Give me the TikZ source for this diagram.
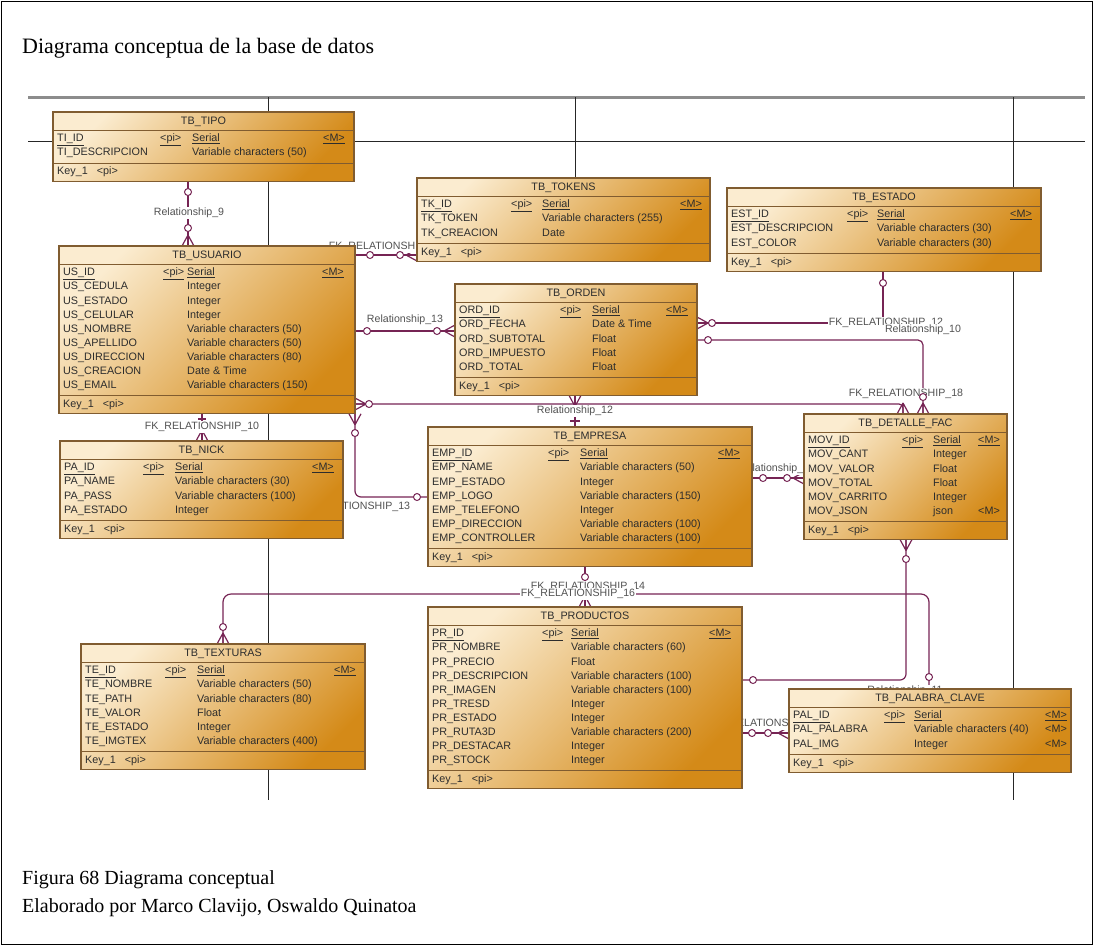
\documentclass[tikz,border=0pt]{standalone}
\usepackage{fontspec}
\setmainfont{Liberation Serif}
\newfontfamily\erfont{Liberation Sans}

\definecolor{boxlight}{RGB}{251,236,208}
\definecolor{boxdark}{RGB}{212,138,24}
\definecolor{boxedge}{RGB}{128,92,48}
\definecolor{relcol}{RGB}{118,36,84}
\definecolor{celltext}{RGB}{45,45,45}
\definecolor{lbltext}{RGB}{82,82,82}

\pgfdeclarelayer{links}
\pgfdeclarelayer{grid}
\pgfsetlayers{links,grid,main}

\tikzset{
  tblbox/.style={draw=boxedge, line width=1.1pt, top color=boxlight, bottom color=boxdark,
    shading angle=45, inner sep=0pt, outer sep=0pt},
  tblrule/.style={draw=boxedge, line width=1pt},
  tblcell/.style={font=\erfont\fontsize{10.8}{12}\selectfont, text=celltext, inner sep=0pt,
    text height=7.7pt, text depth=2pt},
  relline/.style={draw=relcol, line width=1.2pt},
  relmark/.style={circle, draw=relcol, fill=white, line width=1pt, inner sep=0pt, minimum size=7pt},
  rellabel/.style={font=\erfont\fontsize{10.6}{12}\selectfont, text=lbltext, fill=white, inner sep=1.3pt},
  gridline/.style={draw=black!85, line width=1pt},
  crowfoot/.pic={\draw[relline] (-11,0) -- (0,-6) (-11,0) -- (0,0) (-11,0) -- (0,6);}
}

% #1 name, #2 left, #3 top, #4 width, #5 title,
% #6 x of <pi>, #7 x of type, #8 right end of <M>, #9 rows name/pi/type/M
\newcommand{\ertable}[9]{%
  \foreach \rowx [count=\rowk] in {#9} {\xdef\ernrows{\rowk}}%
  \pgfmathsetmacro\ertblh{55+(\ernrows-1)*14.1}%
  \node[tblbox, minimum width=#4pt, minimum height=\ertblh pt, anchor=north west] (#1) at (#2,#3) {};%
  \draw[tblrule] ([yshift=-18pt]#1.north west) -- ([yshift=-18pt]#1.north east);%
  \draw[tblrule] ([yshift=18pt]#1.south west) -- ([yshift=18pt]#1.south east);%
  \node[tblcell] (#1-title) at ([yshift=-9.5pt]#1.north) {#5};%
  \node[tblcell, anchor=west] (#1-key) at ([xshift=4pt, yshift=9pt]#1.south west) {Key\_1\hspace{9pt}<pi>};%
  \foreach \colN/\colP/\colT/\colM [count=\rowi] in {#9} {%
    \pgfmathsetmacro\rowy{#3+27+(\rowi-1)*14.1}%
    \ifnum\rowi=1 \let\rowul\underline\else\let\rowul\relax\fi
    \node[tblcell, anchor=west] (#1-n\rowi) at (#2+4,\rowy) {\rowul{\colN}};%
    \node[tblcell, anchor=west] (#1-p\rowi) at (#6,\rowy) {\rowul{\colP}};%
    \node[tblcell, anchor=west] (#1-t\rowi) at (#7,\rowy) {\rowul{\colT}};%
    \node[tblcell, anchor=east] (#1-m\rowi) at (#8,\rowy) {\rowul{\colM}};%
  }%
}

\begin{document}
\begin{tikzpicture}[x=1pt, y=-1pt]
\useasboundingbox (0,0) rectangle (1094,946);

% page frame, heading and caption
\draw[line width=1pt] (1,1) rectangle (1092,944);
\node[anchor=base west, inner sep=0pt, font=\fontsize{22}{26}\selectfont] (title) at (22,53)
  {Diagrama conceptua de la base de datos};
\node[anchor=base west, inner sep=0pt, font=\fontsize{20}{24}\selectfont] (cap1) at (22,884)
  {Figura 68 Diagrama conceptual};
\node[anchor=base west, inner sep=0pt, font=\fontsize{20}{24}\selectfont] (cap2) at (22,912)
  {Elaborado por Marco Clavijo, Oswaldo Quinatoa};

% entity tables
\ertable{tipo}{53}{112}{301}{TB\_TIPO}{160}{192}{345}{
  TI\_ID/<pi>/Serial/<M>,
  TI\_DESCRIPCION/{}/Variable characters (50)/{}}

\ertable{usuario}{59}{246}{296}{TB\_USUARIO}{163}{187}{344}{
  US\_ID/<pi>/Serial/<M>,
  US\_CEDULA/{}/Integer/{},
  US\_ESTADO/{}/Integer/{},
  US\_CELULAR/{}/Integer/{},
  US\_NOMBRE/{}/Variable characters (50)/{},
  US\_APELLIDO/{}/Variable characters (50)/{},
  US\_DIRECCION/{}/Variable characters (80)/{},
  US\_CREACION/{}/Date \& Time/{},
  US\_EMAIL/{}/Variable characters (150)/{}}

\ertable{tokens}{417}{178}{293}{TB\_TOKENS}{511}{542}{702}{
  TK\_ID/<pi>/Serial/<M>,
  TK\_TOKEN/{}/Variable characters (255)/{},
  TK\_CREACION/{}/Date/{}}

\ertable{estado}{727}{188}{314}{TB\_ESTADO}{847}{877}{1032}{
  EST\_ID/<pi>/Serial/<M>,
  EST\_DESCRIPCION/{}/Variable characters (30)/{},
  EST\_COLOR/{}/Variable characters (30)/{}}

\ertable{orden}{455}{284}{242}{TB\_ORDEN}{560}{592}{688}{
  ORD\_ID/<pi>/Serial/<M>,
  ORD\_FECHA/{}/Date \& Time/{},
  ORD\_SUBTOTAL/{}/Float/{},
  ORD\_IMPUESTO/{}/Float/{},
  ORD\_TOTAL/{}/Float/{}}

\ertable{nick}{60}{441}{283}{TB\_NICK}{143}{175}{334}{
  PA\_ID/<pi>/Serial/<M>,
  PA\_NAME/{}/Variable characters (30)/{},
  PA\_PASS/{}/Variable characters (100)/{},
  PA\_ESTADO/{}/Integer/{}}

\ertable{empresa}{428}{427}{324}{TB\_EMPRESA}{548}{580}{740}{
  EMP\_ID/<pi>/Serial/<M>,
  EMP\_NAME/{}/Variable characters (50)/{},
  EMP\_ESTADO/{}/Integer/{},
  EMP\_LOGO/{}/Variable characters (150)/{},
  EMP\_TELEFONO/{}/Integer/{},
  EMP\_DIRECCION/{}/Variable characters (100)/{},
  EMP\_CONTROLLER/{}/Variable characters (100)/{}}

\ertable{detalle}{804}{414}{203}{TB\_DETALLE\_FAC}{902}{933}{1000}{
  MOV\_ID/<pi>/Serial/<M>,
  MOV\_CANT/{}/Integer/{},
  MOV\_VALOR/{}/Float/{},
  MOV\_TOTAL/{}/Float/{},
  MOV\_CARRITO/{}/Integer/{},
  MOV\_JSON/{}/json/<M>}

\ertable{texturas}{81}{644}{284}{TB\_TEXTURAS}{165}{197}{356}{
  TE\_ID/<pi>/Serial/<M>,
  TE\_NOMBRE/{}/Variable characters (50)/{},
  TE\_PATH/{}/Variable characters (80)/{},
  TE\_VALOR/{}/Float/{},
  TE\_ESTADO/{}/Integer/{},
  TE\_IMGTEX/{}/Variable characters (400)/{}}

\ertable{productos}{428}{607}{314}{TB\_PRODUCTOS}{542}{571}{731}{
  PR\_ID/<pi>/Serial/<M>,
  PR\_NOMBRE/{}/Variable characters (60)/{},
  PR\_PRECIO/{}/Float/{},
  PR\_DESCRIPCION/{}/Variable characters (100)/{},
  PR\_IMAGEN/{}/Variable characters (100)/{},
  PR\_TRESD/{}/Integer/{},
  PR\_ESTADO/{}/Integer/{},
  PR\_RUTA3D/{}/Variable characters (200)/{},
  PR\_DESTACAR/{}/Integer/{},
  PR\_STOCK/{}/Integer/{}}

\ertable{palabra}{789}{689}{282}{TB\_PALABRA\_CLAVE}{884}{914}{1067}{
  PAL\_ID/<pi>/Serial/<M>,
  PAL\_PALABRA/{}/Variable characters (40)/<M>,
  PAL\_IMG/{}/Integer/<M>}

% sheet grid lines behind the tables
\begin{pgfonlayer}{grid}
  \draw[draw=black!45, line width=3pt] (28,97) -- (1085,97);
  \draw[gridline] (28,141) -- (1085,141);
  \draw[gridline] (268,97) -- (268,800);
  \draw[gridline] (1013,97) -- (1013,800);
  \draw[gridline] (575,97) -- (tokens.north -| 575,0);
\end{pgfonlayer}

% relationships
\begin{pgfonlayer}{links}
  % connector lines
  \draw[relline] (tipo.south -| 188,0) -- (usuario.north -| 188,0);
  \draw[relline] (usuario.east |- 0,255) -- (tokens.west |- 0,255);
  \draw[relline] (usuario.east |- 0,331) -- (orden.west |- 0,331);
  \draw[relline, rounded corners=4pt] (usuario.east |- 0,404) -- (903,404) -- (detalle.north -| 903,0);
  \draw[relline] (orden.south -| 575,0) -- (empresa.north -| 575,0);
  \draw[relline] (570,421) -- (580,421);
  \draw[relline] (orden.east |- 0,323) -- (883,323) -- (estado.south -| 883,0);
  \draw[relline, rounded corners=5pt] (orden.east |- 0,340) -- (923,340) -- (detalle.north -| 923,0);
  \draw[relline] (usuario.south -| 202,0) -- (nick.north -| 202,0);
  \draw[relline] (198,419) -- (206,419);
  \draw[relline, rounded corners=6pt] (usuario.south -| 355,0) -- (355,497) -- (empresa.west |- 0,497);
  \draw[relline] (empresa.east |- 0,478) -- (detalle.west |- 0,478);
  \draw[relline] (empresa.south -| 585,0) -- (productos.north -| 585,0);
  \draw[relline, rounded corners=8pt] (texturas.north -| 223,0) -- (223,594) -- (929,594) -- (palabra.north -| 929,0);
  \draw[relline, rounded corners=6pt] (detalle.south -| 906,0) -- (906,680) -- (productos.east |- 0,680);
  \draw[relline] (productos.east |- 0,733) -- (palabra.west |- 0,733);

  % many-side ends
  \pic[rotate=-90] at (usuario.north -| 188,0) {crowfoot};
  \pic at (tokens.west |- 0,255) {crowfoot};
  \pic at (orden.west |- 0,331) {crowfoot};
  \pic[rotate=180] at (usuario.east |- 0,404) {crowfoot};
  \pic[rotate=-90] at (detalle.north -| 903,0) {crowfoot};
  \pic[rotate=90] at (orden.south -| 575,0) {crowfoot};
  \pic[rotate=180] at (orden.east |- 0,323) {crowfoot};
  \pic[rotate=-90] at (detalle.north -| 923,0) {crowfoot};
  \pic[rotate=-90] at (nick.north -| 202,0) {crowfoot};
  \pic[rotate=90] at (usuario.south -| 355,0) {crowfoot};
  \pic at (detalle.west |- 0,478) {crowfoot};
  \pic[rotate=-90] at (productos.north -| 585,0) {crowfoot};
  \pic[rotate=-90] at (texturas.north -| 223,0) {crowfoot};
  \pic[rotate=90] at (detalle.south -| 906,0) {crowfoot};
  \pic at (palabra.west |- 0,733) {crowfoot};
  \node[relmark] (m14a) at (585,577) {};

  % relationship names
  \node[rellabel] (l9) at (189,213) {Relationship\_9};
  \node[rellabel] (l15) at (386,247) {FK\_RELATIONSHIP\_15};
  \node[rellabel] (l13) at (405,320) {Relationship\_13};
  \node[rellabel] (l12) at (575,411) {Relationship\_12};
  \node[rellabel] (lfk12) at (886,323) {FK\_RELATIONSHIP\_12};
  \node[rellabel] (l10) at (923,330) {Relationship\_10};
  \node[rellabel] (lfk18) at (906,394) {FK\_RELATIONSHIP\_18};
  \node[rellabel] (lfk10) at (202,427) {FK\_RELATIONSHIP\_10};
  \node[rellabel] (lfk13) at (353,507) {FK\_RELATIONSHIP\_13};
  \node[rellabel] (lr15) at (777,469) {Relationship\_15};
  \node[rellabel] (lfk14) at (588,587) {FK\_RELATIONSHIP\_14};
  \node[rellabel] (lfk16) at (578,594) {FK\_RELATIONSHIP\_16};
  \node[rellabel] (l11) at (905,691) {Relationship\_11};
  \node[rellabel] (lfk17) at (767,724) {FK\_RELATIONSHIP\_17};

  % optional-side circles
  \node[relmark] (m9a) at (188,192) {};
  \node[relmark] (m9b) at (188,228) {};
  \node[relmark] (m15a) at (370,255) {};
  \node[relmark] (m15b) at (400,255) {};
  \node[relmark] (m13a) at (367,331) {};
  \node[relmark] (m13b) at (437,331) {};
  \node[relmark] (m12a) at (369,404) {};
  \node[relmark] (mfk12a) at (712,323) {};
  \node[relmark] (mfk12b) at (883,283) {};
  \node[relmark] (mfk18a) at (708,340) {};
  \node[relmark] (mfk18b) at (923,397) {};
  \node[relmark] (mfk13a) at (355,433) {};
  \node[relmark] (mfk13b) at (417,497) {};
  \node[relmark] (mr15a) at (763,478) {};
  \node[relmark] (mr15b) at (787,478) {};
  \node[relmark] (mfk16a) at (223,627) {};
  \node[relmark] (mfk16b) at (929,677) {};
  \node[relmark] (mdp1) at (906,559) {};
  \node[relmark] (mdp2) at (753,680) {};
  \node[relmark] (mfk17a) at (752,733) {};
  \node[relmark] (mfk17b) at (768,733) {};
\end{pgfonlayer}
\end{tikzpicture}
\end{document}
